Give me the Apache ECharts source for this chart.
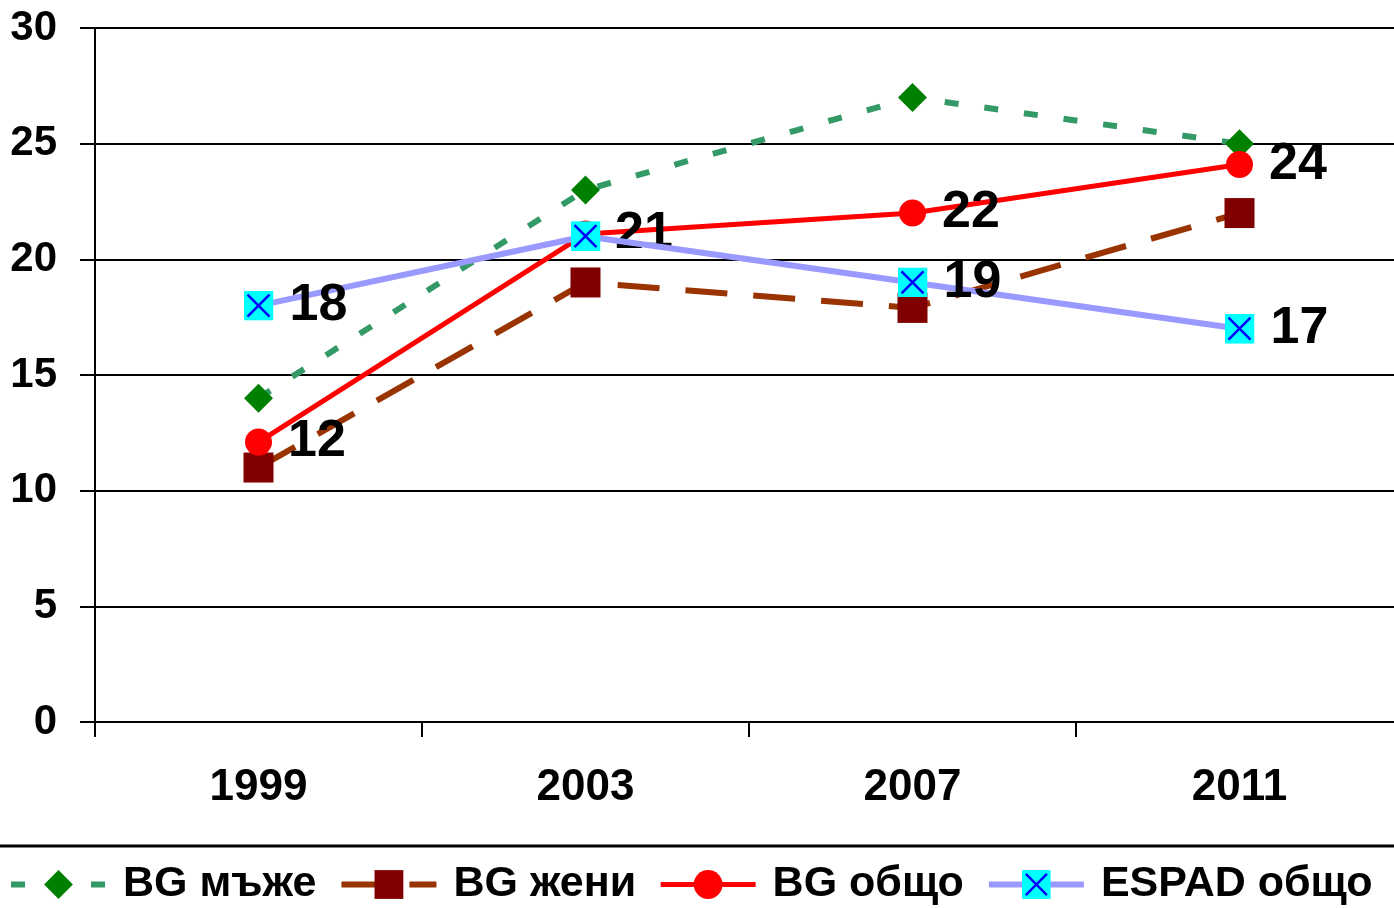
<!DOCTYPE html>
<html>
<head>
<meta charset="utf-8">
<script src="https://cdn.jsdelivr.net/npm/echarts@6/dist/echarts.min.js"></script>
<style>
  html, body { margin: 0; padding: 0; background: #fff; }
  #chart { width: 1394px; height: 908px; }
</style>
</head>
<body>
<div id="chart"></div>
<script>
// years on the x axis
const years = ["1999", "2003", "2007", "2011"]
// values
const bgMen = [14, 23, 27, 25]
const bgWomen = [11, 19, 17.9, 22]
const bgTotal = [12.1, 21.1, 22, 24.1]
const espadTotal = [18, 21, 19, 17]
const seriesNames = ["BG мъже", "BG жени", "BG общо", "ESPAD общо"]

const font = "Arial, 'Liberation Sans', sans-serif"

const espadSymbol =
  "image://data:image/svg+xml;utf8," +
  encodeURIComponent(
    '<svg xmlns="http://www.w3.org/2000/svg" width="30" height="30">' +
      '<rect width="30" height="30" fill="#00FFFF"/>' +
      '<path d="M4 4L26 26M26 4L4 26" stroke="#0000FF" stroke-width="2.5"/>' +
      "</svg>"
  )

const labelStyle = {
  show: true,
  position: "right",
  distance: 16,
  color: "#000",
  fontFamily: font,
  fontWeight: "bold",
  fontSize: 52,
  formatter: (p) => Math.round(p.value),
}

const chart = echarts.init(document.getElementById("chart"), null, { renderer: "canvas" })

const option = {
  backgroundColor: "#fff",
  animation: false,
  grid: {
    left: 95,
    width: 1308,
    top: 28,
    bottom: 186,
    containLabel: false,
    outerBoundsMode: "none",
  },
  legend: {
    data: seriesNames,
    left: 3,
    top: 858,
    itemWidth: 95,
    itemHeight: 36,
    itemGap: 22,
    lineStyle: { width: "inherit" },
    textStyle: {
      color: "#000",
      fontFamily: font,
      fontWeight: "bold",
      fontSize: 43,
      padding: [0, 0, 0, 12],
    },
  },
  graphic: [
    {
      type: "line",
      shape: { x1: 0, y1: 846, x2: 1394, y2: 846 },
      style: { stroke: "#000", lineWidth: 3 },
      silent: true,
    },
  ],
  xAxis: {
    type: "category",
    data: years,
    boundaryGap: true,
    axisLine: { show: true, lineStyle: { color: "#000", width: 2 } },
    axisTick: { show: true, length: 15, lineStyle: { color: "#000", width: 2 } },
    axisLabel: {
      color: "#000",
      fontFamily: font,
      fontWeight: "bold",
      fontSize: 44,
      margin: 44,
    },
    splitLine: { show: false },
  },
  yAxis: {
    type: "value",
    min: 0,
    max: 30,
    interval: 5,
    axisLine: { show: true, lineStyle: { color: "#000", width: 2 } },
    axisTick: { show: true, length: 15, lineStyle: { color: "#000", width: 2 } },
    axisLabel: {
      color: "#000",
      fontFamily: font,
      fontWeight: "bold",
      fontSize: 42,
      margin: 38,
    },
    splitLine: { show: true, lineStyle: { color: "#000", width: 2 } },
  },
  series: [
    {
      name: seriesNames[0],
      type: "line",
      data: bgMen,
      symbol: "diamond",
      symbolSize: 29,
      itemStyle: { color: "#008000" },
      lineStyle: { color: "#339966", width: 6, type: [14, 26] },
      z: 2,
    },
    {
      name: seriesNames[1],
      type: "line",
      data: bgWomen,
      symbol: "rect",
      symbolSize: 30,
      itemStyle: { color: "#800000" },
      lineStyle: { color: "#993300", width: 6, type: [42, 26] },
      z: 3,
    },
    {
      name: seriesNames[2],
      type: "line",
      data: bgTotal,
      symbol: "circle",
      symbolSize: 27,
      itemStyle: { color: "#FF0000" },
      lineStyle: { color: "#FF0000", width: 5 },
      label: labelStyle,
      z: 4,
    },
    {
      name: seriesNames[3],
      type: "line",
      data: espadTotal.map((v, i) => (i === 1 ? { value: v, label: { show: false } } : v)),
      symbol: espadSymbol,
      symbolSize: 30,
      itemStyle: { color: "#9999FF" },
      lineStyle: { color: "#9999FF", width: 6 },
      label: labelStyle,
      z: 5,
    },
  ],
}

chart.setOption(option)
window.addEventListener("resize", () => chart.resize())
</script>
</body>
</html>
